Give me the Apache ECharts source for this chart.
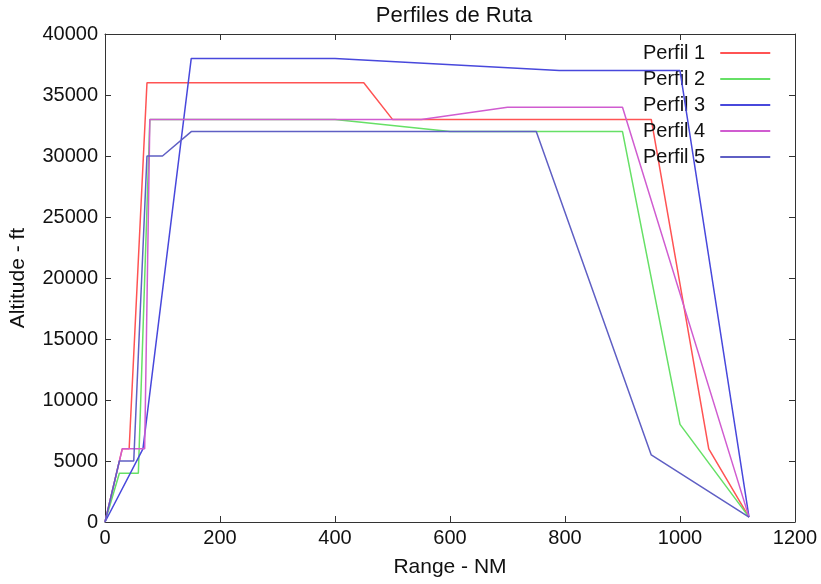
<!DOCTYPE html>
<html>
<head>
<meta charset="utf-8">
<script src="https://cdn.jsdelivr.net/npm/echarts@6/dist/echarts.min.js"></script>
<style>
  html, body { margin: 0; padding: 0; background: #fff; }
  #chart { width: 821px; height: 584px; }
</style>
</head>
<body>
<div id="chart"></div>
<script>
// Route profiles: range (NM) against altitude (ft)
const profileNames = ['Perfil 1', 'Perfil 2', 'Perfil 3', 'Perfil 4', 'Perfil 5'];

const perfil1Range    = [0, 30, 42, 73, 450, 500, 950, 1050, 1120];
const perfil1Altitude = [0, 6000, 6000, 36000, 36000, 33000, 33000, 6000, 400];

const perfil2Range    = [0, 25, 58, 78, 400, 600, 900, 1000, 1120];
const perfil2Altitude = [0, 4000, 4000, 33000, 33000, 32000, 32000, 8000, 400];

const perfil3Range    = [0, 66, 150, 400, 790, 1000, 1120];
const perfil3Altitude = [0, 6000, 38000, 38000, 37000, 37000, 400];

const perfil4Range    = [0, 30, 69, 78, 550, 700, 900, 1120];
const perfil4Altitude = [0, 6000, 6000, 33000, 33000, 34000, 34000, 400];

const perfil5Range    = [0, 25, 50, 73, 100, 150, 750, 950, 1120];
const perfil5Altitude = [0, 5000, 5000, 30000, 30000, 32000, 32000, 5500, 400];

const xTicks = [0, 200, 400, 600, 800, 1000, 1200];
const yTicks = [0, 5000, 10000, 15000, 20000, 25000, 30000, 35000, 40000];

const ranges = [perfil1Range, perfil2Range, perfil3Range, perfil4Range, perfil5Range];
const altitudes = [perfil1Altitude, perfil2Altitude, perfil3Altitude, perfil4Altitude, perfil5Altitude];
const colors = ['#ff5353', '#66e066', '#4848dc', '#d05cd0', '#5f5fc4'];

const FONT = '"Liberation Sans", Arial, sans-serif';

const chart = echarts.init(document.getElementById('chart'), null, { renderer: 'canvas' });

const pairs = (xs, ys) => xs.map((x, i) => [x, ys[i]]);
const plain = v => String(v);

const series = profileNames.map((name, i) => ({
  name: name,
  type: 'line',
  data: pairs(ranges[i], altitudes[i]),
  showSymbol: false,
  symbol: 'none',
  lineStyle: { color: colors[i], width: 1.5 },
  itemStyle: { color: colors[i] },
  animation: false,
  z: 2 + i
}));

const xMin = xTicks[0], xMax = xTicks[xTicks.length - 1], xStep = xTicks[1] - xTicks[0];
const yMin = yTicks[0], yMax = yTicks[yTicks.length - 1], yStep = yTicks[1] - yTicks[0];

// box frame with inward ticks on every side
const frameAxis = {
  axisLine: { show: true, onZero: false, lineStyle: { color: '#333', width: 1 } },
  axisTick: { show: true, inside: true, length: 6, lineStyle: { color: '#333' } },
  splitLine: { show: false }
};

chart.setOption({
  backgroundColor: '#fff',
  animation: false,
  title: {
    text: 'Perfiles de Ruta',
    left: 449,
    textAlign: 'center',
    top: 0,
    textStyle: { fontFamily: FONT, fontSize: 22, fontWeight: 'normal', color: '#111' }
  },
  legend: {
    orient: 'vertical',
    left: 638,
    top: 38,
    align: 'right',
    itemWidth: 50,
    itemHeight: 2,
    itemGap: 6,
    icon: 'rect',
    textStyle: { fontFamily: FONT, fontSize: 20, color: '#111', padding: [0, 10, 0, 0] },
    data: profileNames
  },
  grid: { left: 103, right: 26, top: 34, bottom: 62, containLabel: false },
  xAxis: [
    Object.assign({
      type: 'value', min: xMin, max: xMax, interval: xStep,
      name: 'Range - NM', nameLocation: 'middle', nameGap: 35,
      nameTextStyle: { fontFamily: FONT, fontSize: 21, color: '#111' },
      axisLabel: { fontFamily: FONT, fontSize: 20, color: '#111', margin: 6, formatter: plain }
    }, frameAxis),
    Object.assign({
      type: 'value', position: 'top', min: xMin, max: xMax, interval: xStep,
      axisLabel: { show: false }
    }, frameAxis)
  ],
  yAxis: [
    Object.assign({
      type: 'value', min: yMin, max: yMax, interval: yStep,
      name: 'Altitude - ft', nameLocation: 'middle', nameGap: 76, nameRotate: 90,
      nameTextStyle: { fontFamily: FONT, fontSize: 21, color: '#111' },
      axisLabel: { fontFamily: FONT, fontSize: 20, color: '#111', margin: 7, formatter: plain }
    }, frameAxis),
    Object.assign({
      type: 'value', position: 'right', min: yMin, max: yMax, interval: yStep,
      axisLabel: { show: false }
    }, frameAxis)
  ],
  series: series
});
</script>
</body>
</html>
